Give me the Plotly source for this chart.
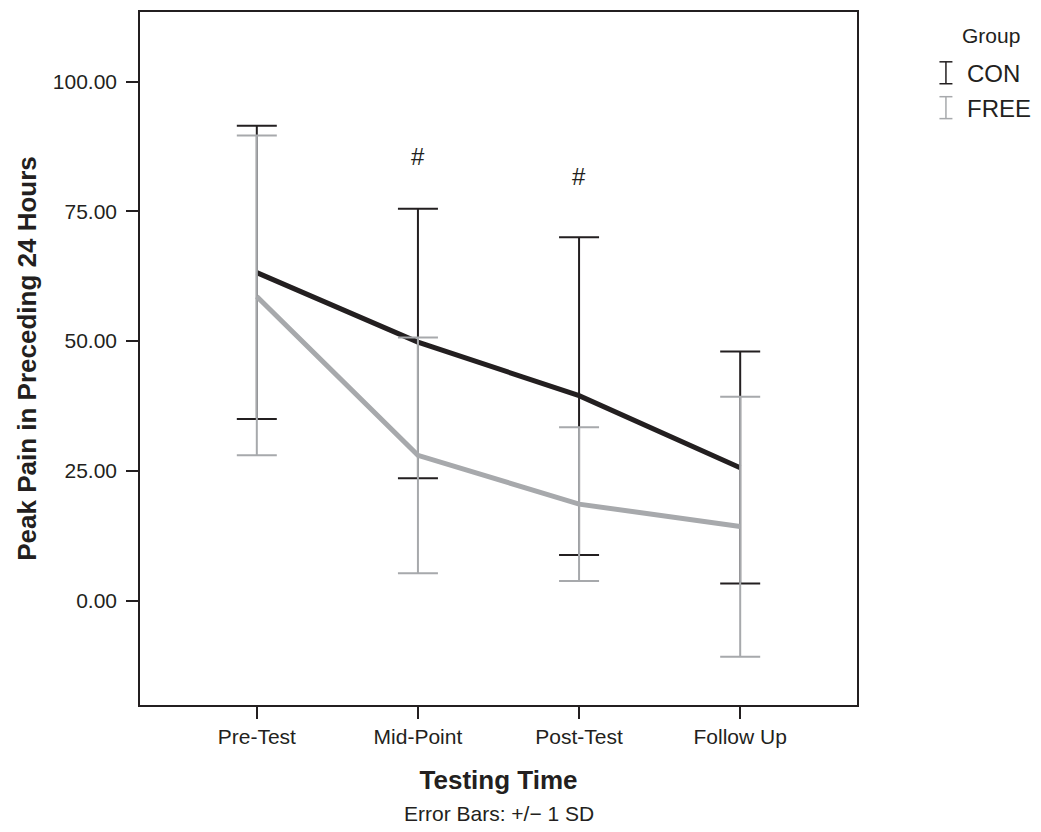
import plotly.graph_objects as go

categories = ["Pre-Test", "Mid-Point", "Post-Test", "Follow Up"]
con_mean = [63.2, 49.8, 39.5, 25.6]
con_upper = [91.5, 75.5, 70.0, 48.0]
con_lower = [35.0, 23.6, 8.8, 3.3]
free_mean = [58.6, 28.0, 18.6, 14.3]
free_upper = [89.6, 50.7, 33.4, 39.3]
free_lower = [28.0, 5.3, 3.8, -10.8]
sig_labels = ["", "#", "#", ""]
sig_y = [None, 85.5, 81.7, None]
ytick_vals = [0, 25, 50, 75, 100]

BLACK = "#231f20"
GRAY = "#a7a9ac"
FONT = "Liberation Sans, Arial, sans-serif"

# plot frame in page pixels (page is offset 8px by the body margin)
PX0, PX1, PY0, PY1 = 140, 857.5, 10, 705.5
OFF = 8
W, H = 1041 - OFF, 832 - OFF

xs = list(range(len(categories)))

def series(mean, upper, lower, color, name):
    return go.Scatter(
        x=xs, y=mean, mode="lines", name=name,
        line=dict(color=color, width=5),
        error_y=dict(type="data", symmetric=False,
                     array=[u - m for u, m in zip(upper, mean)],
                     arrayminus=[m - l for m, l in zip(mean, lower)],
                     color=color, thickness=2, width=20),
        showlegend=False,
    )

fig = go.Figure()
fig.add_trace(series(con_mean, con_upper, con_lower, BLACK, "CON"))
fig.add_trace(series(free_mean, free_upper, free_lower, GRAY, "FREE"))

for i, (lab, yv) in enumerate(zip(sig_labels, sig_y)):
    if lab:
        fig.add_annotation(x=i, y=yv, text=lab, showarrow=False,
                           font=dict(family=FONT, size=24, color=BLACK))

# Legend (manual)
fig.add_annotation(xref="paper", yref="paper", x=1.0, y=1.0, xanchor="left", yanchor="middle",
                   xshift=960 - PX1, yshift=-(33 - PY0), text="Group", showarrow=False,
                   font=dict(family=FONT, size=21, color=BLACK))
leg = [("CON", BLACK, 71), ("FREE", GRAY, 106)]
for name, col, ypx in leg:
    fig.add_annotation(xref="paper", yref="paper", x=1.0, y=1.0, xanchor="left", yanchor="middle",
                       xshift=965 - PX1, yshift=-(ypx - PY0), text=name, showarrow=False,
                       font=dict(family=FONT, size=24, color=BLACK))

x_icon = 946.5
for name, col, ypx in leg:
    for dx0, dy0, dx1, dy1 in [(-6.5, -11, 6.5, -11), (-6.5, 11, 6.5, 11), (0, -11, 0, 11)]:
        fig.add_shape(type="line", xref="paper", yref="paper",
                      x0=(x_icon + dx0 - PX0) / (PX1 - PX0), x1=(x_icon + dx1 - PX0) / (PX1 - PX0),
                      y0=(PY1 - (ypx + dy0)) / (PY1 - PY0), y1=(PY1 - (ypx + dy1)) / (PY1 - PY0),
                      line=dict(color=col, width=1.5))

fig.update_layout(
    width=W, height=H,
    margin=dict(l=PX0 - OFF, r=W - (PX1 - OFF), t=PY0 - OFF, b=H - (PY1 - OFF)),
    paper_bgcolor="white", plot_bgcolor="white",
    font=dict(family=FONT, color=BLACK),
    xaxis=dict(
        range=[-0.725, 3.725], tickmode="array", tickvals=xs, ticktext=categories,
        showline=True, linecolor=BLACK, linewidth=1.5, mirror=True,
        ticks="outside", ticklen=12, tickwidth=1.5, tickcolor=BLACK,
        showgrid=False, zeroline=False,
        tickfont=dict(size=21, family=FONT, color=BLACK),
        title=dict(text="<b>Testing Time</b>", font=dict(size=26, family=FONT, color=BLACK), standoff=24),
    ),
    yaxis=dict(
        range=[-20.1, 113.4], tickmode="array", tickvals=ytick_vals, tickformat=".2f",
        showline=True, linecolor=BLACK, linewidth=1.5, mirror=True,
        ticks="outside", ticklen=12, tickwidth=1.5, tickcolor=BLACK,
        showgrid=False, zeroline=False, ticklabelstandoff=5,
        tickfont=dict(size=21, family=FONT, color=BLACK),
        title=dict(text="<b>Peak Pain in Preceding 24 Hours</b>", font=dict(size=26, family=FONT, color=BLACK), standoff=9),
    ),
)

fig.add_annotation(xref="paper", yref="paper", x=0.5, y=0, yanchor="middle",
                   yshift=-(814 - PY1), text="Error Bars: +/\u2212 1 SD", showarrow=False,
                   font=dict(family=FONT, size=21, color=BLACK))

fig.write_html("out.html")
